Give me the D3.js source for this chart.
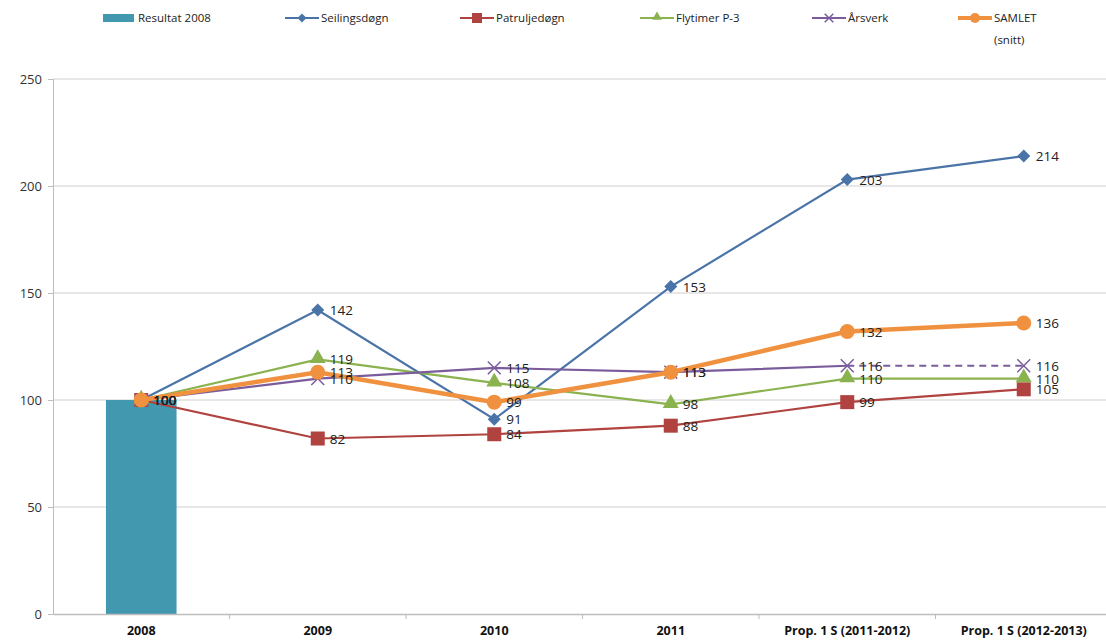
<!DOCTYPE html>
<html>
<head>
<meta charset="utf-8">
<script src="https://cdn.jsdelivr.net/npm/d3@7"></script>
<style>
	body { margin: 0; background: #fff; }
	text { font-family: "Open Sans", "Noto Sans", sans-serif; }
</style>
</head>
<body>
<script>
	/******************/
	/*     data       */
	/******************/
	var categories = ["2008", "2009", "2010", "2011", "Prop. 1 S (2011-2012)", "Prop. 1 S (2012-2013)"];
	var barValues = [100, null, null, null, null, null];
	var seilingsdogn = [100, 142, 91, 153, 203, 214];
	var patruljedogn = [100, 82, 84, 88, 99, 105];
	var flytimer = [100, 119, 108, 98, 110, 110];
	var arsverk = [100, 110, 115, 113, 116, 116];
	var samlet = [100, 113, 99, 113, 132, 136];
	var yTicks = [0, 50, 100, 150, 200, 250];

	// series table for the lines (order = draw order)
	var series = [
		{name: "Seilingsdøgn", values: seilingsdogn, color: "#4a74a8", symbol: "diamond", width: 2.2},
		{name: "Patruljedøgn", values: patruljedogn, color: "#b0423f", symbol: "square", width: 2.2},
		{name: "Flytimer P-3", values: flytimer, color: "#8ab24f", symbol: "triangle", width: 2.2},
		{name: "Årsverk", values: arsverk, color: "#7a5c9c", symbol: "cross", width: 2.2},
		{name: "SAMLET", values: samlet, color: "#f0913f", symbol: "circle", width: 4.5}
	];

	/******************/
	/*   d3 init var  */
	/******************/
	var W = 1106, H = 641;
	var margin = {top: 79, left: 53, bottom: 27};
	var plotRight = 1112;
	var x = d3.scaleBand().domain(categories).range([margin.left, plotRight]);
	var y = d3.scaleLinear().domain([0, 250]).range([H - margin.bottom, margin.top]);

	var svg = d3.select("body").append("svg")
		.attr("width", W)
		.attr("height", H);

	//gridlines
	svg.append("g")
		.selectAll("line")
		.data(yTicks.filter(function(d) { return d > 0; }))
		.enter().append("line")
		.attr("x1", margin.left).attr("x2", plotRight)
		.attr("y1", function(d) { return y(d); })
		.attr("y2", function(d) { return y(d); })
		.attr("stroke", "#d0d0d0").attr("stroke-width", 1.2);

	//y axis
	var yAxis = svg.append("g")
		.attr("transform", "translate(" + margin.left + ",0)")
		.call(d3.axisLeft(y).tickValues(yTicks).tickSize(5).tickPadding(6));
	yAxis.select(".domain").attr("stroke", "#bdbdbd");
	yAxis.selectAll(".tick line").attr("stroke", "#bdbdbd");
	yAxis.selectAll("text").attr("fill", "#333").style("font-size", "13px");

	//bar
	svg.append("g")
		.selectAll("rect")
		.data(barValues.map(function(v, i) { return {c: categories[i], v: v}; }).filter(function(d) { return d.v != null; }))
		.enter().append("rect")
		.attr("x", function(d) { return x(d.c) + x.bandwidth() * 0.3; })
		.attr("width", x.bandwidth() * 0.4)
		.attr("y", function(d) { return y(d.v); })
		.attr("height", function(d) { return y(0) - y(d.v); })
		.attr("fill", "#4198af");

	//x axis
	var xAxis = svg.append("g")
		.attr("transform", "translate(0," + y(0) + ")")
		.call(d3.axisBottom(x).tickSize(0).tickPadding(12));
	xAxis.select(".domain").attr("stroke", "#bdbdbd").attr("stroke-width", 1.5);
	xAxis.selectAll("text").attr("fill", "#111").style("font-size", "12.5px").style("font-weight", "bold");
	//category separators
	xAxis.selectAll(".sep")
		.data(categories.slice(1))
		.enter().append("line")
		.attr("x1", function(d) { return x(d); })
		.attr("x2", function(d) { return x(d); })
		.attr("y1", 0).attr("y2", 5)
		.attr("stroke", "#bdbdbd");

	/******************/
	/*    d3 draw     */
	/******************/
	function cx(i) { return x(categories[i]) + x.bandwidth() / 2; }

	var line = d3.line()
		.x(function(d) { return cx(d.i); })
		.y(function(d) { return y(d.v); });

	function pts(s) { return s.values.map(function(v, i) { return {i: i, v: v}; }); }

	function drawSymbol(g, type, color, px, py, big) {
		if (type === "diamond") {
			// square diamond (rotated square)
			var r = big ? 6.5 : 4.5;
			g.append("path").attr("d", "M0," + (-r) + "L" + r + ",0L0," + r + "L" + (-r) + ",0Z")
				.attr("transform", "translate(" + px + "," + py + ")").attr("fill", color);
		} else if (type === "square") {
			g.append("rect").attr("x", px - (big ? 7 : 5)).attr("y", py - (big ? 7 : 5))
				.attr("width", big ? 14 : 10).attr("height", big ? 14 : 10).attr("fill", color);
		} else if (type === "triangle") {
			g.append("path").attr("d", d3.symbol(d3.symbolTriangle, big ? 110 : 40)())
				.attr("transform", "translate(" + px + "," + (py - 1) + ")").attr("fill", color);
		} else if (type === "cross") {
			g.append("path").attr("d", d3.symbol(d3.symbolX, big ? 110 : 50)())
				.attr("transform", "translate(" + px + "," + py + ")")
				.attr("fill", "none").attr("stroke", color).attr("stroke-width", 1.5);
		} else {
			g.append("circle").attr("cx", px).attr("cy", py).attr("r", big ? 7.5 : 5).attr("fill", color);
		}
	}

	series.forEach(function(s) {
		var g = svg.append("g");
		var p = pts(s);
		if (s.name === "Årsverk") {
			//last segment is dashed
			g.append("path").datum(p.slice(0, 5)).attr("d", line)
				.attr("fill", "none").attr("stroke", s.color).attr("stroke-width", s.width);
			g.append("path").datum(p.slice(4)).attr("d", line)
				.attr("fill", "none").attr("stroke", s.color).attr("stroke-width", s.width)
				.attr("stroke-dasharray", "7,5");
		} else {
			g.append("path").datum(p).attr("d", line)
				.attr("fill", "none").attr("stroke", s.color).attr("stroke-width", s.width);
		}
		p.forEach(function(d) {
			drawSymbol(g, s.symbol, s.color, cx(d.i), y(d.v), true);
		});
	});

	//data labels on top
	series.forEach(function(s) {
		svg.append("g").selectAll("text")
			.data(pts(s))
			.enter().append("text")
			.attr("x", function(d) { return cx(d.i) + 12; })
			.attr("y", function(d) { return y(d.v) + 5; })
			.attr("fill", "#222")
			.style("font-size", "13.5px")
			.text(function(d) { return d.v; });
	});

	/******************/
	/*    legend      */
	/******************/
	var legend = svg.append("g").attr("transform", "translate(0,18)");
	legend.append("rect").attr("x", 103).attr("y", -4).attr("width", 31).attr("height", 8).attr("fill", "#4198af");
	legend.append("text").attr("x", 138).attr("y", 4).style("font-size", "11.5px").attr("fill", "#222").text("Resultat 2008");
	var legendX = [285, 460, 640, 812, 958];
	series.forEach(function(s, i) {
		var lx = legendX[i];
		legend.append("line").attr("x1", lx).attr("x2", lx + 34).attr("y1", 0).attr("y2", 0)
			.attr("stroke", s.color).attr("stroke-width", s.width > 3 ? 4 : 2);
		drawSymbol(legend, s.symbol, s.color, lx + 17, 0, false);
		var t = legend.append("text").attr("x", lx + 36).attr("y", 4)
			.style("font-size", "11.5px").attr("fill", "#222");
		if (s.name === "SAMLET") {
			t.text("SAMLET");
			legend.append("text").attr("x", lx + 36).attr("y", 26)
				.style("font-size", "11.5px").attr("fill", "#222").text("(snitt)");
		} else {
			t.text(s.name);
		}
	});
</script>
</body>
</html>
